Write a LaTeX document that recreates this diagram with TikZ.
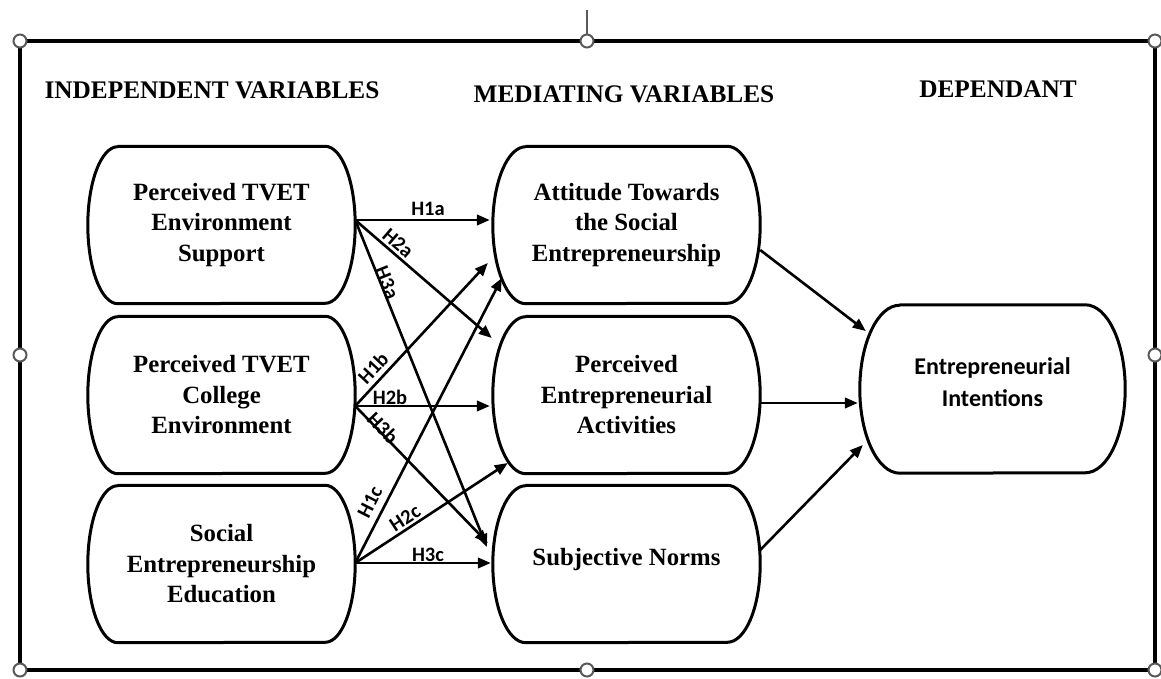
\documentclass[tikz,border=0pt]{standalone}
\usepackage{fontspec}
\setmainfont{Liberation Serif}
\newfontfamily\calfont{Carlito}
\usetikzlibrary{arrows.meta}
\newcommand\stadshape[3]{%
  \draw[shapeline] ([xshift=#2]#1.north west) -- ([xshift=-#2]#1.north east)
    arc[start angle=90, end angle=-90, x radius=#2, y radius=#3]
    -- ([xshift=#2]#1.south west)
    arc[start angle=270, end angle=90, x radius=#2, y radius=#3] -- cycle;}
\begin{document}
\begin{tikzpicture}[x=1pt,y=1pt,
  box/.style={draw=none, minimum width=267pt, minimum height=157pt, align=center,
    font=\fontsize{24.8}{30.5}\selectfont\bfseries, inner sep=0pt},
  shapeline/.style={line width=3pt, line join=round},
  arr/.style={line width=2.6pt, -{Triangle[length=13pt,width=10.5pt]}},
  hlab/.style={font=\calfont\fontsize{20.5}{22}\selectfont\bfseries, inner sep=0.5pt},
  head/.style={font=\fontsize{25.3}{28}\selectfont\bfseries, inner sep=0pt},
  frame/.style={line width=3.5pt},
  handle/.style={draw=black!65, line width=2pt, fill=white},
]
\useasboundingbox (0,0) rectangle (1161,678);

% frame with selection handles
\draw[black!65, line width=1.2pt] (587,668) -- (587,643);
\draw[frame] (20,8) rectangle (1155,637);
\foreach \p in {(20,637),(587,637),(1155,637),(20,323),(1155,323),(20,8),(587,8),(1155,8)}
  \draw[handle] \p circle[radius=6.5pt];

% headings
\node[head] (hInd) at (212,588) {INDEPENDENT VARIABLES};
\node[head] (hMed) at (624,584) {MEDIATING VARIABLES};
\node[head] (hDep) at (998,589) {DEPENDANT};

% nodes
\node[box] (L1) at (221.5,453) {Perceived TVET\\Environment\\Support};
\node[box] (L2) at (221.5,283) {Perceived TVET\\College\\Environment};
\node[box] (L3) at (221.5,114) {Social\\Entrepreneurship\\Education};
\node[box] (M1) at (626.5,453) {Attitude Towards\\the Social\\Entrepreneurship};
\node[box] (M2) at (626.5,283) {Perceived\\Entrepreneurial\\Activities};
\node[box, text depth=15pt] (M3) at (626.5,114) {Subjective Norms};
\node[box, minimum width=265pt, minimum height=168pt, text depth=14pt,
  font=\calfont\fontsize{24}{32}\selectfont\bfseries] (R) at (992.5,289) {Entrepreneurial\\Intentions};

\stadshape{L1}{30pt}{78.5pt}
\stadshape{L2}{30pt}{78.5pt}
\stadshape{L3}{30pt}{78.5pt}
\stadshape{M1}{33pt}{78.5pt}
\stadshape{M2}{33pt}{78.5pt}
\stadshape{M3}{33pt}{78.5pt}
\stadshape{R}{40pt}{84pt}

% hypothesis arrows
\draw[arr] ([yshift=5pt]L1.east) -- ([shift={(-3pt,5pt)}]M1.west);
\draw[arr] ([yshift=5pt]L1.east) -- ([shift={(-1pt,57pt)}]M2.west);
\draw[arr] ([yshift=5pt]L1.east) -- ([shift={(-6pt,17pt)}]M3.west);
\draw[arr] ([yshift=-11pt]L2.east) -- ([shift={(-5pt,-38pt)}]M1.west);
\draw[arr] ([yshift=-11pt]L2.east) -- ([shift={(-3pt,-11pt)}]M2.west);
\draw[arr] ([yshift=-11pt]L2.east) -- ([shift={(-5pt,21pt)}]M3.west);
\draw[arr] ([yshift=1pt]L3.east) -- ([shift={(9pt,-53pt)}]M1.west);
\draw[arr] ([yshift=1pt]L3.east) -- ([shift={(15pt,-68pt)}]M2.west);
\draw[arr] ([yshift=1pt]L3.east) -- ([shift={(-2pt,1pt)}]M3.west);

% mediating to dependent
\draw[arr] ([yshift=-25pt]M1.east) -- ([shift={(6pt,58pt)}]R.west);
\draw[arr] ([yshift=-8pt]M2.east) -- ([shift={(-2pt,-14pt)}]R.west);
\draw[arr] ([yshift=14pt]M3.east) -- ([shift={(3pt,-56pt)}]R.west);

% labels
\node[hlab] (t1a) at (428,469) {H1a};
\node[hlab, rotate=-41] (t2a) at (398,435) {H2a};
\node[hlab, rotate=-68] (t3a) at (387,395) {H3a};
\node[hlab, rotate=47] (t1b) at (373,310) {H1b};
\node[hlab] (t2b) at (390,281) {H2b};
\node[hlab, rotate=-46] (t3b) at (383,250) {H3b};
\node[hlab, rotate=63] (t1c) at (370,176) {H1c};
\node[hlab, rotate=33] (t2c) at (405,160) {H2c};
\node[hlab] (t3c) at (428,123) {H3c};
\end{tikzpicture}
\end{document}
